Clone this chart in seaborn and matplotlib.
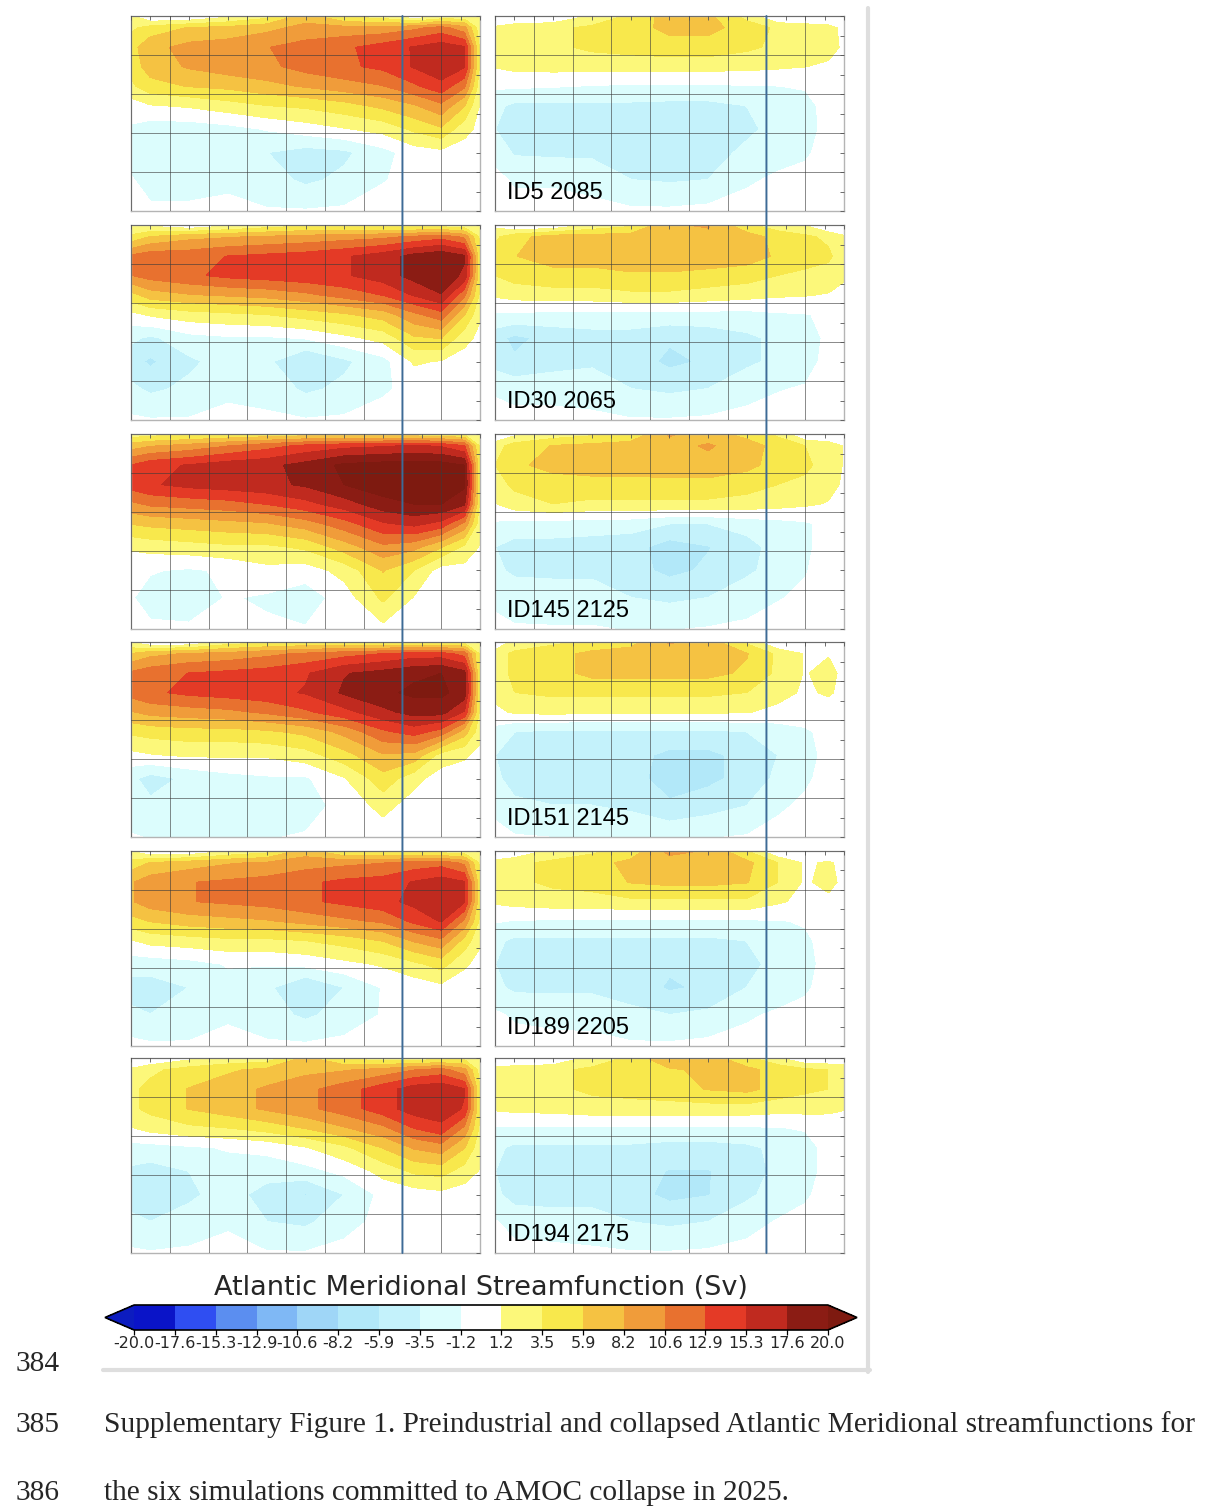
"""
Supplementary Figure 1: preindustrial (left) and collapsed (right) Atlantic
Meridional streamfunctions for six simulations, shared colorbar and caption.
"""

import numpy as np
import matplotlib
matplotlib.use('Agg')
import matplotlib.pyplot as plt
from matplotlib.colors import ListedColormap, BoundaryNorm
from matplotlib.patches import ConnectionPatch
from matplotlib.lines import Line2D
import seaborn as sns

# grid of the streamfunction fields (latitude in deg N, depth in m)
LAT = [-30, -25, -15, -5, 5, 15, 25, 35, 43, 50, 56, 60]
DEPTH = [0, 300, 800, 1300, 1800, 2300, 2900, 3500, 4200, 5000]

LEVELS = np.linspace(-20, 20, 18)
BAND_COLORS = ['#0a14c8', '#2f4ef2', '#5b8ef0', '#7fb8f5', '#9fd6f7', '#b2e8f9',
               '#c4f2fb', '#dcfdfd', '#ffffff', '#fcf87a', '#f8e84c', '#f5c242',
               '#f09c3a', '#e8712f', '#e43a26', '#c02a1f', '#8b1c14']
UNDER_COLOR = '#0c1cc0'
OVER_COLOR = '#7e1a10'

RUN_LABELS = ['ID5 2085', 'ID30 2065', 'ID145 2125', 'ID151 2145', 'ID189 2205', 'ID194 2175']

# preindustrial fields, rows = DEPTH, columns = LAT (Sv)
PSI_PI_ID5 = [
    [1.5, -1.5, -1.5, 0.5, 2.5, 7.0, 3.0, 2.0, -1.4, 1.0, 1.5, 1.0],
    [3.0, 4.5, 6.0, 6.5, 7.5, 9.0, 9.0, 9.0, 10.0, 11.5, 9.0, 2.0],
    [5.0, 7.5, 9.0, 9.5, 10.5, 11.5, 12.5, 14.0, 15.5, 16.5, 15.5, 3.0],
    [4.5, 7.0, 8.5, 9.5, 10.0, 11.5, 12.5, 13.5, 15.5, 17.0, 15.5, 3.0],
    [3.0, 5.0, 6.0, 6.5, 7.5, 8.5, 9.5, 10.5, 12.5, 14.5, 11.0, 2.0],
    [0.0, 1.0, 1.5, 2.5, 3.5, 4.0, 5.0, 6.5, 8.0, 10.0, 6.0, 1.0],
    [-1.5, -2.5, -2.5, -2.0, -1.0, 0.0, 1.0, 2.0, 4.0, 5.5, 2.0, 0.5],
    [-2.0, -3.0, -3.0, -2.5, -3.5, -4.5, -4.0, -2.0, 0.0, 0.5, 0.0, 0.0],
    [-1.0, -2.0, -2.0, -1.5, -2.5, -4.0, -3.0, -1.3, -0.5, 0.0, 0.0, 0.0],
    [-0.3, -0.8, -0.8, -0.8, -1.0, -1.0, -0.8, -0.3, 0.0, 0.0, 0.0, 0.0],
]
PSI_PI_ID30 = [
    [1.0, 0.5, -1.3, 0.5, 2.0, 3.0, 3.0, 2.5, 2.0, 2.0, 1.5, 1.0],
    [4.0, 6.0, 7.5, 8.0, 8.5, 9.0, 9.5, 10.0, 11.0, 12.0, 10.0, 3.0],
    [11.0, 12.0, 12.0, 13.0, 13.5, 14.0, 15.0, 16.5, 18.5, 19.5, 18.0, 4.0],
    [10.5, 11.5, 12.5, 13.5, 14.0, 14.5, 15.0, 16.5, 18.5, 19.5, 17.0, 4.0],
    [5.0, 7.0, 8.0, 8.5, 9.0, 10.0, 11.5, 13.0, 15.5, 17.5, 11.0, 3.0],
    [0.5, 1.5, 2.5, 3.0, 3.5, 4.5, 5.5, 7.0, 10.0, 12.0, 6.0, 1.5],
    [-3.0, -4.0, -2.0, -1.5, -1.5, -1.0, 0.5, 2.0, 5.5, 6.0, 2.0, 0.5],
    [-5.0, -6.3, -4.0, -2.5, -3.0, -6.0, -4.0, -2.0, 1.5, 1.0, 0.0, 0.0],
    [-3.0, -4.0, -3.0, -1.5, -2.0, -4.0, -3.0, -1.5, -0.5, 0.0, 0.0, 0.0],
    [-0.8, -1.0, -1.0, -0.8, -0.8, -1.0, -0.8, -0.3, 0.0, 0.0, 0.0, 0.0],
]
PSI_PI_ID145 = [
    [2.0, 2.5, 3.0, 3.5, 4.0, 4.5, 4.5, 4.0, 4.0, 3.5, 3.0, 1.5],
    [7.0, 8.0, 9.0, 10.5, 12.0, 13.5, 14.5, 15.0, 15.5, 15.0, 13.0, 3.0],
    [13.0, 14.5, 15.5, 16.5, 17.0, 18.5, 20.5, 21.0, 21.0, 21.0, 20.0, 3.5],
    [14.0, 15.0, 16.0, 16.5, 17.0, 18.0, 20.0, 21.5, 21.5, 21.5, 20.5, 3.5],
    [10.0, 11.0, 11.5, 12.0, 13.0, 14.5, 16.5, 19.0, 20.0, 20.0, 18.0, 3.0],
    [6.0, 6.5, 7.0, 7.5, 8.0, 9.5, 12.0, 15.0, 16.0, 14.5, 10.0, 2.0],
    [1.5, 2.0, 2.5, 3.0, 3.0, 4.0, 7.0, 10.0, 9.0, 6.0, 3.0, 1.0],
    [-0.5, -1.0, -1.5, -0.8, 0.5, 0.0, 2.0, 6.0, 3.5, 0.0, 0.3, 0.0],
    [-1.0, -2.0, -2.5, -1.0, -1.5, -2.5, 0.0, 4.0, 1.0, 0.0, 0.0, 0.0],
    [-0.3, -0.8, -0.8, -0.5, -0.8, -1.0, 0.0, 0.5, 0.0, 0.0, 0.0, 0.0],
]
PSI_PI_ID151 = [
    [1.0, -1.3, -1.3, 2.0, 3.0, 3.5, 3.5, 3.0, 3.0, 3.0, 2.5, 1.0],
    [6.0, 7.5, 8.5, 9.0, 10.0, 11.0, 12.0, 13.0, 14.0, 14.0, 12.0, 3.0],
    [11.0, 12.0, 13.0, 13.5, 14.0, 15.0, 17.5, 18.5, 19.5, 20.0, 18.5, 3.5],
    [11.5, 12.5, 13.5, 14.0, 14.5, 15.5, 18.0, 19.5, 20.5, 20.5, 19.0, 3.5],
    [8.0, 9.0, 9.5, 10.0, 11.0, 12.5, 14.5, 17.0, 18.5, 18.5, 15.0, 3.0],
    [4.0, 4.5, 5.0, 5.0, 5.5, 6.5, 9.0, 12.5, 14.0, 12.0, 7.0, 2.0],
    [0.5, 1.0, 1.5, 1.5, 1.5, 2.5, 5.0, 8.0, 7.5, 2.5, 1.5, 0.5],
    [-3.0, -4.5, -3.0, -2.0, -1.5, -1.5, 1.0, 5.0, 2.0, 0.0, 0.0, 0.0],
    [-2.5, -3.0, -2.5, -2.0, -2.5, -2.0, -0.5, 2.0, 0.0, 0.0, 0.0, 0.0],
    [-1.0, -1.3, -1.3, -1.2, -1.3, -1.0, -0.3, -0.3, 0.0, 0.0, 0.0, 0.0],
]
PSI_PI_ID189 = [
    [1.0, -1.3, -1.3, 1.0, 2.5, 7.0, 3.0, 2.5, 2.0, 2.0, 1.5, 1.0],
    [4.5, 6.0, 7.0, 8.0, 8.5, 9.5, 10.0, 10.5, 11.5, 12.0, 10.0, 3.0],
    [8.0, 9.5, 10.5, 11.0, 11.5, 12.5, 13.5, 14.0, 15.5, 16.5, 15.5, 4.0],
    [8.0, 9.5, 10.5, 11.0, 11.5, 12.5, 13.5, 14.5, 16.0, 17.0, 15.5, 4.0],
    [5.0, 6.0, 7.0, 7.5, 8.0, 9.0, 10.0, 11.0, 13.5, 15.5, 10.0, 3.0],
    [1.0, 2.0, 2.5, 3.0, 3.0, 3.5, 4.5, 6.0, 8.5, 10.0, 5.0, 1.5],
    [-2.5, -2.5, -2.0, -1.0, -1.0, -0.5, 0.5, 1.5, 3.0, 4.5, 1.5, 0.5],
    [-4.5, -4.5, -3.5, -2.0, -3.0, -6.0, -3.5, -1.0, -0.3, 0.5, 0.0, 0.0],
    [-3.0, -3.5, -3.0, -1.5, -2.5, -4.0, -2.5, -1.0, 0.0, 0.0, 0.0, 0.0],
    [-0.5, -0.8, -0.8, -0.5, -0.8, -0.8, -0.5, 0.0, 0.0, 0.0, 0.0, 0.0],
]
PSI_PI_ID194 = [
    [-1.3, -1.3, 0.5, 1.5, 2.0, 6.5, 3.0, 2.0, 2.0, 2.0, 2.5, 1.0],
    [1.5, 3.0, 4.5, 5.5, 6.5, 7.5, 8.0, 9.0, 10.5, 11.5, 9.0, 2.5],
    [3.0, 4.2, 6.0, 7.2, 8.6, 10.0, 11.8, 14.3, 16.5, 17.0, 15.5, 3.5],
    [3.0, 4.2, 6.0, 7.2, 8.6, 10.0, 11.8, 14.3, 16.5, 17.0, 15.0, 3.5],
    [1.0, 2.0, 3.0, 3.5, 4.5, 6.0, 8.0, 10.0, 13.0, 14.5, 10.0, 3.0],
    [-2.0, -2.0, -1.5, -1.0, -0.5, 1.0, 3.0, 6.0, 8.5, 9.5, 6.0, 2.0],
    [-4.0, -4.5, -3.5, -2.0, -2.5, -2.0, -0.5, 2.0, 4.0, 4.5, 2.5, 1.0],
    [-4.5, -5.0, -4.0, -2.5, -4.5, -6.0, -3.5, -0.5, 0.0, 0.5, 0.0, 0.0],
    [-3.0, -3.5, -2.5, -1.5, -3.5, -4.0, -2.0, -0.5, 0.0, 0.0, 0.0, 0.0],
    [-0.8, -1.0, -0.8, -0.5, -1.0, -1.0, -0.5, 0.0, 0.0, 0.0, 0.0, 0.0],
]

# collapsed-state fields
PSI_COL_ID5 = [
    [-1.3, -1.5, -1.3, 1.5, 4.0, 7.0, 6.5, 2.5, -1.3, -1.5, -1.5, -1.3],
    [1.5, 2.5, 3.0, 4.0, 5.0, 6.5, 6.5, 5.0, 3.0, 2.5, 2.0, 0.5],
    [2.0, 2.5, 3.0, 4.0, 4.5, 5.0, 5.0, 4.0, 3.0, 2.5, 2.0, 0.8],
    [1.3, 1.8, 2.0, 2.0, 2.0, 2.0, 2.0, 1.8, 1.5, 1.2, 0.8, 0.5],
    [-0.8, -0.8, -1.0, -1.3, -1.5, -1.5, -1.5, -1.3, -1.2, -1.0, -0.5, 0.0],
    [-3.0, -4.0, -4.0, -4.0, -4.0, -4.2, -4.2, -3.5, -2.5, -1.8, -0.5, 0.0],
    [-3.5, -4.5, -4.5, -4.5, -5.0, -5.5, -5.0, -4.0, -2.8, -2.0, -0.5, 0.0],
    [-2.0, -3.8, -4.0, -4.0, -4.5, -5.0, -4.5, -3.0, -2.0, -1.5, -0.3, 0.0],
    [-0.5, -1.5, -1.5, -2.0, -3.5, -3.8, -3.5, -1.5, -0.8, -0.5, 0.0, 0.0],
    [0.0, -0.3, -0.3, -0.5, -0.8, -0.8, -0.5, -0.3, 0.0, 0.0, 0.0, 0.0],
]
PSI_COL_ID30 = [
    [0.5, -1.5, -1.3, 1.5, 3.0, 8.0, 8.5, 4.0, 2.0, 1.0, -1.5, -1.3],
    [3.0, 5.0, 7.0, 7.0, 7.0, 7.5, 7.5, 7.0, 5.0, 4.0, 3.0, 1.5],
    [4.5, 5.8, 7.0, 7.0, 7.5, 7.5, 7.5, 7.0, 5.5, 4.5, 4.0, 2.0],
    [3.5, 4.5, 5.0, 5.0, 5.5, 5.5, 5.0, 4.5, 3.5, 3.0, 2.5, 1.5],
    [1.5, 2.0, 2.5, 2.5, 3.0, 3.0, 2.5, 2.0, 1.5, 1.3, 1.0, 0.5],
    [-1.5, -1.5, -2.0, -2.0, -2.0, -2.0, -2.0, -2.0, -1.5, -1.3, -0.8, 0.0],
    [-5.0, -6.5, -5.0, -4.5, -4.5, -5.5, -5.0, -4.0, -3.0, -2.0, -0.8, 0.0],
    [-4.5, -5.5, -4.5, -4.0, -4.5, -6.5, -5.5, -4.0, -3.0, -2.0, -0.5, 0.0],
    [-1.5, -2.0, -2.0, -2.0, -3.5, -4.0, -3.5, -2.0, -1.3, -1.0, 0.0, 0.0],
    [-0.3, -0.5, -0.5, -0.8, -1.0, -1.0, -0.8, -0.5, -0.3, 0.0, 0.0, 0.0],
]
PSI_COL_ID145 = [
    [-1.3, 0.5, 2.0, 3.0, 4.0, 8.5, 7.0, 5.0, 3.0, -1.3, -1.5, -1.3],
    [2.5, 4.5, 6.0, 6.5, 7.0, 7.5, 8.5, 7.0, 5.0, 3.5, 2.5, 1.0],
    [3.5, 5.5, 6.5, 7.0, 7.0, 7.5, 7.5, 6.5, 5.0, 4.0, 2.5, 1.0],
    [2.5, 4.0, 5.0, 5.0, 5.0, 5.0, 5.0, 4.5, 3.5, 3.0, 2.0, 0.8],
    [1.0, 2.5, 3.5, 3.0, 3.0, 3.0, 3.0, 2.5, 2.0, 1.5, 1.0, 0.5],
    [-1.5, -2.0, -2.0, -2.5, -2.5, -3.5, -3.5, -2.5, -2.0, -1.5, -0.5, 0.0],
    [-3.5, -4.5, -4.5, -4.5, -5.0, -7.0, -6.0, -4.5, -2.5, -1.5, -0.5, 0.0],
    [-3.0, -4.0, -4.0, -4.0, -5.0, -6.5, -5.5, -4.0, -2.5, -1.3, -0.3, 0.0],
    [-1.5, -2.0, -2.5, -2.5, -3.5, -4.0, -3.5, -2.0, -1.3, -0.8, 0.0, 0.0],
    [-0.8, -1.0, -1.0, -1.0, -1.3, -1.3, -1.0, -0.8, -0.3, 0.0, 0.0, 0.0],
]
PSI_COL_ID151 = [
    [-1.3, 2.0, 3.0, 4.0, 5.0, 8.5, 7.0, 3.0, -1.5, -1.3, 0.0, 0.0],
    [2.5, 4.0, 5.0, 6.5, 7.0, 7.0, 7.0, 6.0, 3.0, 1.0, 1.0, 0.5],
    [2.5, 4.0, 5.0, 6.5, 6.5, 6.5, 6.5, 5.5, 3.0, 1.0, 2.0, 0.5],
    [2.0, 3.5, 4.0, 4.0, 4.0, 4.0, 4.0, 3.5, 2.0, 0.8, 1.5, 0.5],
    [0.5, 1.5, 1.8, 1.5, 1.5, 1.5, 1.5, 1.3, 0.5, 0.0, 0.0, 0.0],
    [-2.0, -3.5, -4.0, -4.0, -4.0, -4.0, -4.0, -3.5, -2.5, -1.5, -0.5, 0.0],
    [-3.5, -4.5, -4.5, -4.5, -5.0, -6.5, -6.5, -5.0, -3.5, -2.0, -0.5, 0.0],
    [-3.0, -4.5, -4.5, -4.5, -5.0, -7.0, -6.5, -5.0, -3.0, -1.5, -0.5, 0.0],
    [-1.5, -3.0, -3.5, -3.5, -4.0, -5.5, -4.5, -3.5, -1.5, -0.8, 0.0, 0.0],
    [-0.8, -1.0, -1.2, -1.3, -1.5, -1.5, -1.3, -1.0, -0.5, 0.0, 0.0, 0.0],
]
PSI_COL_ID189 = [
    [-1.3, -1.3, 2.0, 3.0, 4.5, 9.0, 8.0, 3.5, -1.3, -1.5, -1.5, -1.3],
    [2.0, 3.0, 4.0, 5.0, 6.5, 7.0, 7.0, 6.5, 3.5, 0.8, 1.5, 0.5],
    [2.0, 3.0, 4.0, 4.5, 6.0, 6.5, 6.5, 6.0, 3.5, 0.8, 2.0, 0.5],
    [1.5, 2.0, 2.5, 2.5, 3.0, 3.0, 3.0, 3.0, 1.5, 0.5, 0.5, 0.0],
    [-1.0, -1.3, -1.5, -1.5, -1.5, -1.5, -1.5, -1.5, -1.3, -1.0, -0.5, 0.0],
    [-3.0, -4.0, -4.0, -4.0, -4.0, -4.0, -4.0, -3.5, -2.5, -1.5, -0.5, 0.0],
    [-3.5, -4.5, -4.5, -4.5, -5.0, -5.5, -5.5, -4.0, -3.0, -1.8, -0.5, 0.0],
    [-3.0, -4.0, -4.0, -4.0, -4.5, -6.2, -5.5, -3.5, -2.5, -1.5, -0.3, 0.0],
    [-0.8, -1.5, -2.0, -2.0, -3.0, -3.5, -3.0, -1.5, -0.8, -0.5, 0.0, 0.0],
    [0.0, -0.3, -0.3, -0.5, -0.8, -0.8, -0.5, -0.3, 0.0, 0.0, 0.0, 0.0],
]
PSI_COL_ID194 = [
    [-1.3, -1.5, -1.3, 2.0, 4.0, 8.5, 7.0, 4.0, 1.5, -1.3, -1.3, 0.0],
    [2.0, 2.5, 3.0, 4.0, 5.0, 5.5, 6.5, 6.5, 5.0, 4.0, 3.5, 2.0],
    [2.0, 2.5, 3.0, 4.0, 4.5, 5.0, 6.0, 6.5, 5.0, 4.0, 3.5, 2.0],
    [1.5, 1.8, 2.0, 2.5, 2.5, 2.5, 2.5, 2.5, 2.0, 2.0, 1.8, 1.3],
    [-1.5, -1.5, -1.5, -1.5, -1.5, -1.5, -1.5, -1.5, -1.3, -1.0, -0.5, 0.0],
    [-3.0, -4.0, -4.0, -4.0, -4.0, -4.5, -4.5, -4.0, -3.0, -2.0, -0.5, 0.0],
    [-3.5, -4.5, -4.5, -4.5, -5.0, -6.0, -6.0, -4.5, -3.0, -2.0, -0.5, 0.0],
    [-3.0, -4.5, -4.5, -4.5, -5.0, -6.5, -6.0, -4.0, -2.5, -1.5, -0.3, 0.0],
    [-1.0, -2.0, -2.5, -2.5, -3.5, -4.0, -3.5, -2.0, -1.0, -0.5, 0.0, 0.0],
    [-0.3, -0.5, -0.5, -0.8, -1.0, -1.0, -0.8, -0.5, 0.0, 0.0, 0.0, 0.0],
]

PI_FIELDS = [PSI_PI_ID5, PSI_PI_ID30, PSI_PI_ID145, PSI_PI_ID151, PSI_PI_ID189, PSI_PI_ID194]
COLLAPSED_FIELDS = [PSI_COL_ID5, PSI_COL_ID30, PSI_COL_ID145, PSI_COL_ID151, PSI_COL_ID189, PSI_COL_ID194]

CBAR_TITLE = 'Atlantic Meridional Streamfunction (Sv)'
LINE_NUMBERS = ['384', '385', '386']
CAPTION_LINES = ['Supplementary Figure 1. Preindustrial and collapsed Atlantic Meridional streamfunctions for',
                 'the six simulations committed to AMOC collapse in 2025.']

# layout in pixels of the 1226x1512 page
W, H = 1226, 1512
ROW_TOPS = [16, 225, 434, 642, 851, 1058]
COL_LEFTS = [131, 495]
PANEL_W, PANEL_H = 349, 195
REF_LAT = 40


def make_panel(fig, left, top, field, cmap, norm):
    ax = fig.add_axes([left / W, 1 - (top + PANEL_H) / H, PANEL_W / W, PANEL_H / H])
    cs = ax.contourf(LAT, DEPTH, np.array(field), levels=LEVELS, cmap=cmap, norm=norm, extend='both')
    ax.set_xlim(-30, 60)
    ax.set_ylim(5000, 0)
    ax.set_xticks(np.arange(-30, 61, 10))
    ax.set_xticks(np.arange(-25, 60, 10), minor=True)
    ax.set_yticks(np.arange(0, 5001, 1000))
    ax.set_yticks(np.arange(500, 5000, 1000), minor=True)
    ax.set_axisbelow(False)
    ax.grid(True, which='major', color='#3a3a3a', lw=0.7, alpha=0.6)
    ax.tick_params(which='both', direction='in', top=True, right=True, length=3, width=0.6,
                   color='#555555', labelbottom=False, labelleft=False)
    for sp in ax.spines.values():
        sp.set_color('#b4b4b4')
        sp.set_linewidth(1.0)
    return ax, cs


def main():
    sns.set_theme(style='white')
    plt.rcParams['font.family'] = ['DejaVu Sans']

    cmap = ListedColormap(sns.color_palette(BAND_COLORS, n_colors=len(BAND_COLORS)))
    cmap.set_under(UNDER_COLOR)
    cmap.set_over(OVER_COLOR)
    norm = BoundaryNorm(LEVELS, cmap.N)

    fig = plt.figure(figsize=(W / 100, H / 100), dpi=100)
    fig.patch.set_facecolor('white')

    axes = []
    cs = None
    for i, label in enumerate(RUN_LABELS):
        row = []
        for j, field in enumerate([PI_FIELDS[i], COLLAPSED_FIELDS[i]]):
            ax, cs = make_panel(fig, COL_LEFTS[j], ROW_TOPS[i], field, cmap, norm)
            row.append(ax)
        row[1].text(0.035, 0.06, label, transform=row[1].transAxes, fontsize=17,
                    family='Liberation Sans', color='black', va='baseline', ha='left', zorder=5)
        axes.append(row)

    # reference latitude line running through each column
    for j in range(2):
        con = ConnectionPatch(xyA=(REF_LAT, 0), coordsA=axes[0][j].transData,
                              xyB=(REF_LAT, 5000), coordsB=axes[-1][j].transData,
                              color='#3d6b96', lw=1.4, zorder=10)
        fig.add_artist(con)

    # colorbar (axes box includes the end triangles)
    cax = fig.add_axes([105 / W, 1 - 1330 / H, 752 / W, 25 / H])
    cb = fig.colorbar(cs, cax=cax, orientation='horizontal', ticks=LEVELS, extendfrac=0.042)
    cb.outline.set_edgecolor('black')
    cb.outline.set_linewidth(1.2)
    cb.set_ticklabels([f'{v:.1f}' for v in LEVELS])
    cax.tick_params(direction='inout', length=7, width=0.9, color='black', labelsize=11.5, pad=1)
    fig.text(481 / W, 1 - 1288 / H, CBAR_TITLE, ha='center', va='center', fontsize=19.5,
             family='DejaVu Sans')

    # grey frame edges of the pasted figure
    fig.add_artist(Line2D([868 / W, 868 / W], [1 - 8 / H, 1 - 1372 / H], color='#dedede', lw=3.0))
    fig.add_artist(Line2D([103 / W, 870 / W], [1 - 1370 / H, 1 - 1370 / H], color='#dedede', lw=3.0))

    # line numbers and caption
    for txt, yc in zip(LINE_NUMBERS, [1364, 1425, 1493]):
        fig.text(16 / W, 1 - yc / H, txt, ha='left', va='center', fontsize=21.2, family='Liberation Serif')
    for txt, yc in zip(CAPTION_LINES, [1425, 1493]):
        fig.text(104 / W, 1 - yc / H, txt, ha='left', va='center', fontsize=21.2, family='Liberation Serif')

    fig.savefig('out.png', dpi=100, facecolor='white')
    plt.close(fig)


if __name__ == '__main__':
    main()
